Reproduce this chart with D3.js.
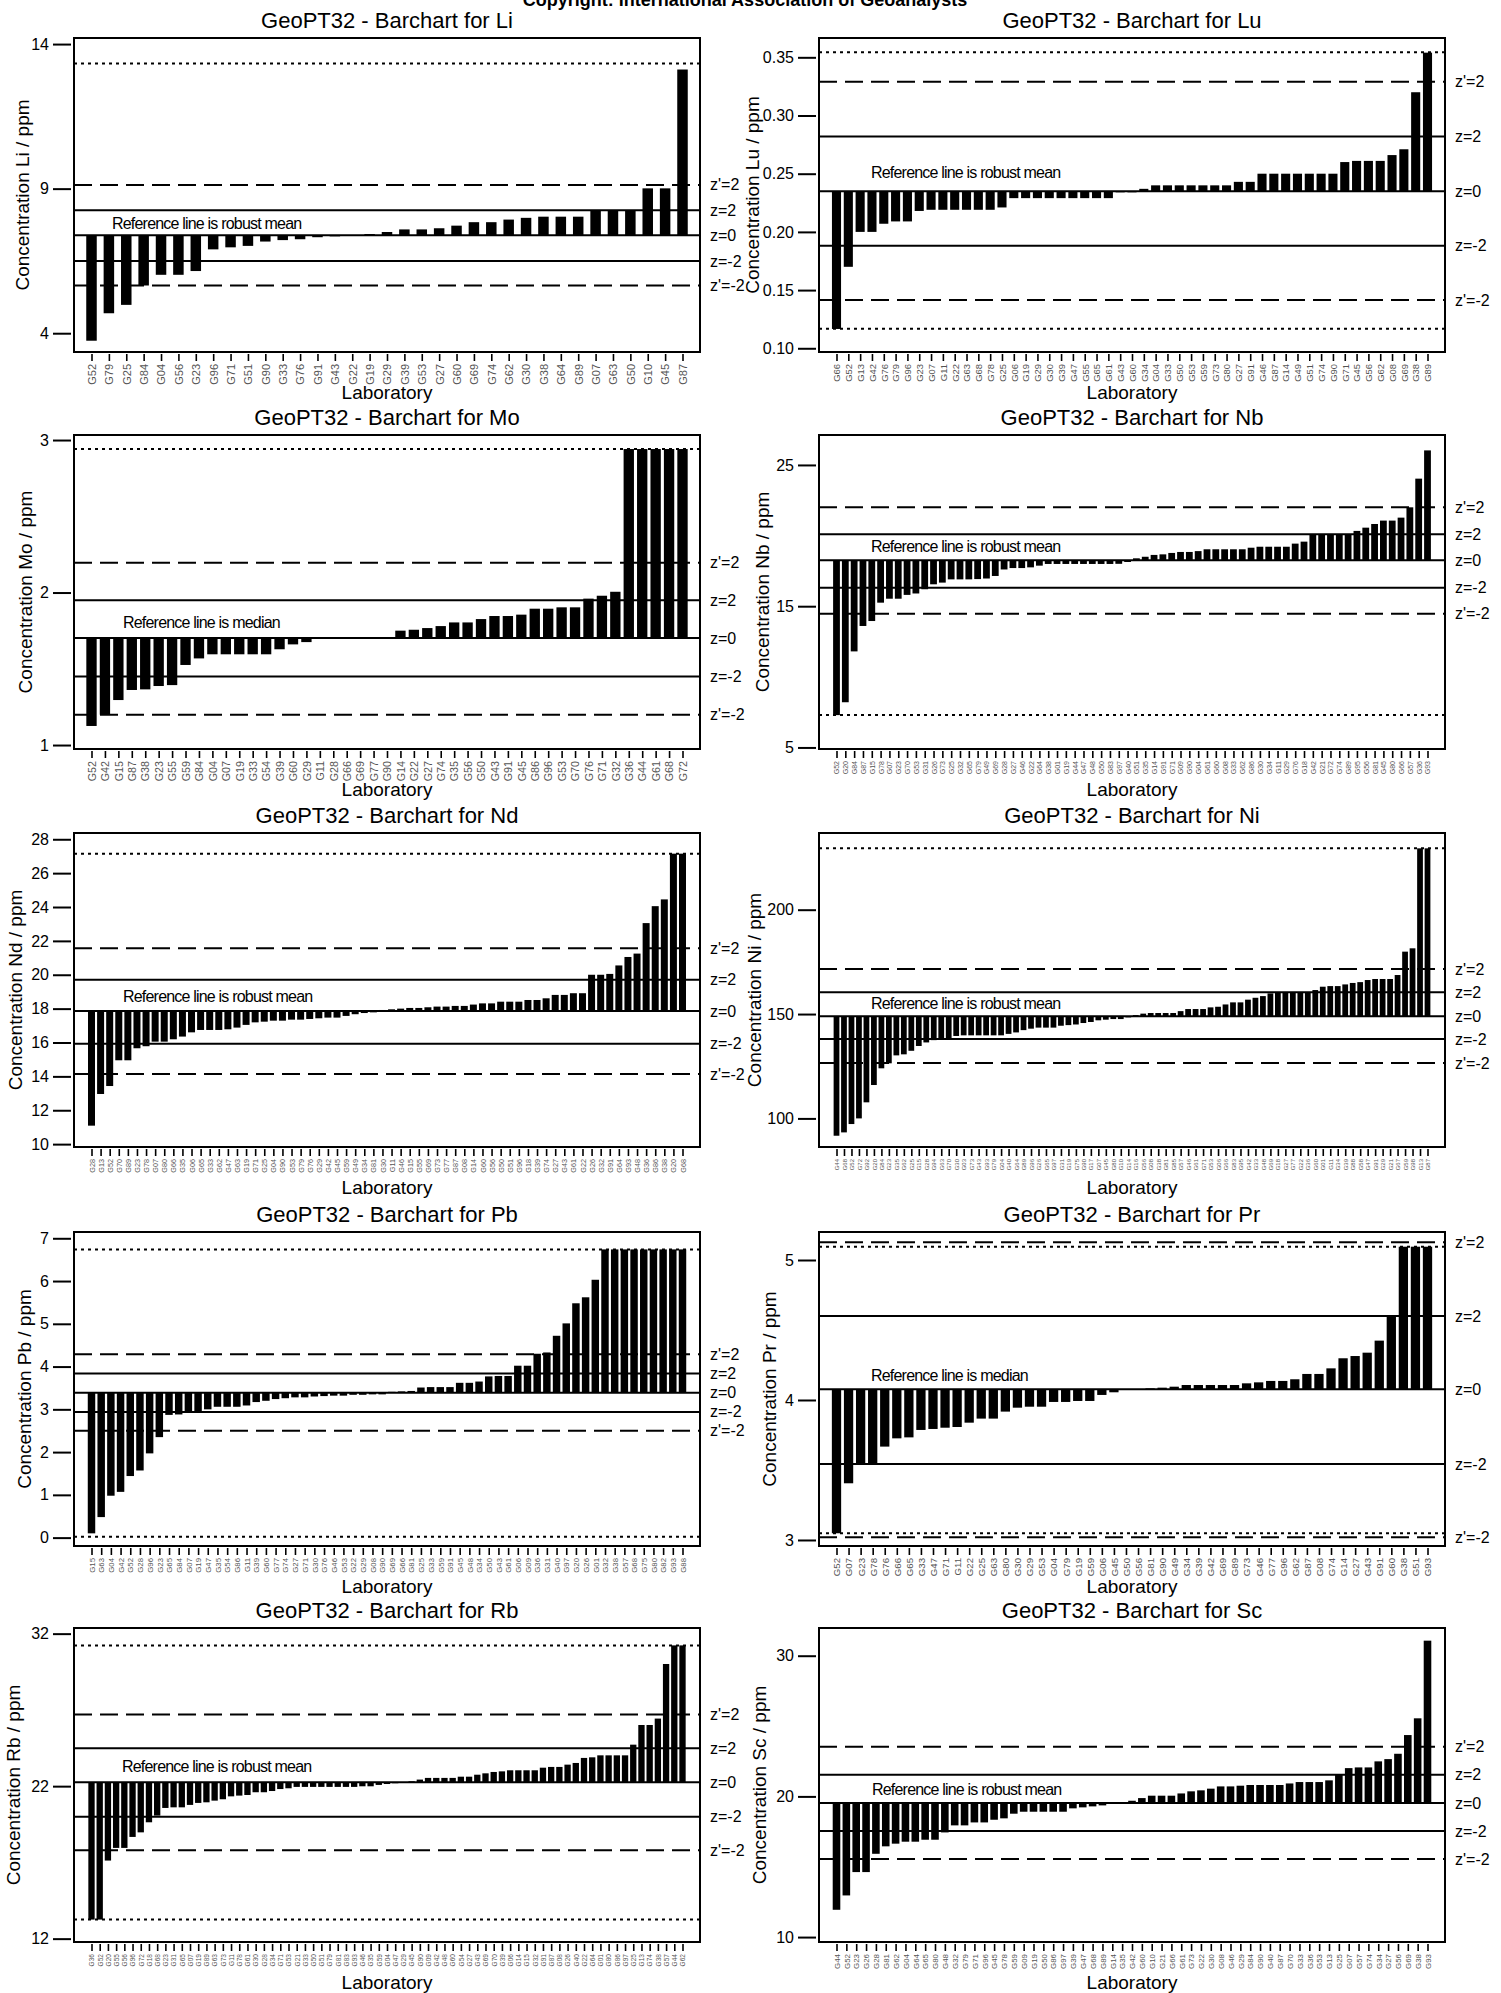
<!DOCTYPE html>
<html>
<head>
<meta charset="utf-8">
<script src="https://cdn.jsdelivr.net/npm/d3@7/dist/d3.min.js"></script>
<style>
  body { margin: 0; background: #fff; }
  svg { display: block; }
  text { font-family: "Liberation Sans", Arial, Helvetica, sans-serif; }
</style>
</head>
<body>
<div id="chart"></div>
<script>
// ---- data: one list of labs and one of values per element ----
const elements = ['Li', 'Lu', 'Mo', 'Nb', 'Nd', 'Ni', 'Pb', 'Pr', 'Rb', 'Sc'];

const liLabs = ['G52','G79','G25','G84','G04','G56','G23','G96','G71','G51','G90','G33','G76','G91','G43','G22','G19','G29','G39','G53','G27','G60','G69','G74','G62','G30','G38','G64','G89','G07','G63','G50','G10','G45','G87'];
const liValues = [3.74,4.69,4.98,5.65,6.02,6.02,6.15,6.90,6.97,7.02,7.17,7.22,7.25,7.32,7.35,7.39,7.43,7.50,7.59,7.59,7.63,7.72,7.84,7.84,7.93,7.99,8.03,8.03,8.03,8.25,8.25,8.25,9.01,9.01,13.12];

const luLabs = ['G66','G52','G13','G42','G76','G79','G96','G23','G07','G11','G22','G63','G68','G78','G25','G06','G19','G29','G30','G39','G47','G55','G65','G61','G43','G60','G34','G04','G33','G50','G53','G59','G73','G80','G27','G91','G46','G87','G14','G49','G51','G74','G90','G71','G45','G56','G62','G08','G69','G38','G89'];
const luValues = [0.1166,0.170,0.200,0.200,0.207,0.209,0.209,0.218,0.219,0.219,0.219,0.219,0.219,0.219,0.221,0.229,0.229,0.229,0.229,0.229,0.229,0.229,0.229,0.229,0.234,0.234,0.237,0.240,0.240,0.240,0.240,0.240,0.240,0.240,0.243,0.243,0.250,0.250,0.250,0.250,0.250,0.250,0.250,0.260,0.261,0.261,0.261,0.266,0.271,0.320,0.354];

const moLabs = ['G52','G42','G15','G87','G38','G23','G55','G59','G84','G04','G07','G19','G33','G54','G39','G60','G29','G11','G28','G66','G69','G77','G90','G14','G22','G27','G74','G35','G56','G50','G43','G91','G45','G86','G96','G53','G70','G76','G71','G32','G36','G44','G61','G68','G72'];
const moValues = [1.125,1.199,1.295,1.361,1.365,1.387,1.393,1.525,1.568,1.595,1.595,1.595,1.595,1.595,1.628,1.660,1.675,1.702,1.702,1.702,1.702,1.702,1.702,1.750,1.756,1.767,1.780,1.804,1.804,1.826,1.846,1.846,1.855,1.894,1.894,1.903,1.903,1.960,1.979,2.005,2.941,2.941,2.941,2.941,2.941];

const nbLabs = ['G52','G20','G84','G87','G15','G78','G07','G23','G70','G53','G31','G26','G73','G25','G32','G65','G79','G49','G69','G28','G27','G46','G22','G64','G38','G01','G19','G44','G47','G48','G50','G83','G97','G40','G51','G35','G14','G91','G71','G09','G90','G04','G61','G60','G08','G33','G62','G86','G30','G34','G11','G29','G76','G18','G42','G21','G72','G74','G89','G95','G56','G81','G45','G80','G66','G57','G36','G93'];
const nbValues = [7.29,8.2,11.8,13.6,13.95,15.25,15.53,15.53,15.8,15.9,16.2,16.55,16.67,16.9,16.9,16.9,16.92,16.96,17.14,17.6,17.7,17.7,17.75,17.87,17.99,17.99,17.99,17.99,17.99,17.99,17.99,17.99,18.0,18.13,18.39,18.5,18.63,18.67,18.77,18.84,18.84,18.9,19.03,19.03,19.03,19.03,19.03,19.14,19.21,19.21,19.21,19.21,19.43,19.57,20.09,20.09,20.09,20.09,20.09,20.33,20.56,20.82,21.06,21.06,21.27,22.0,24.03,26.03];

const ndLabs = ['G28','G13','G52','G70','G89','G23','G78','G07','G80','G66','G35','G06','G65','G33','G62','G47','G63','G19','G71','G25','G04','G90','G53','G79','G76','G29','G42','G45','G59','G49','G34','G81','G30','G11','G46','G15','G55','G69','G73','G77','G87','G08','G14','G60','G56','G50','G51','G96','G18','G39','G74','G27','G43','G61','G22','G26','G32','G91','G64','G93','G48','G36','G86','G38','G20','G68'];
const ndValues = [11.09,12.96,13.43,14.95,14.95,15.66,15.78,16.05,16.05,16.19,16.35,16.60,16.74,16.74,16.74,16.78,16.88,17.04,17.19,17.23,17.29,17.29,17.35,17.35,17.39,17.43,17.47,17.47,17.57,17.67,17.74,17.78,17.92,17.96,18.00,18.04,18.04,18.08,18.12,18.12,18.16,18.16,18.24,18.31,18.31,18.41,18.41,18.41,18.51,18.51,18.61,18.81,18.81,18.91,18.91,20.0,20.0,20.05,20.55,21.05,21.25,23.05,24.05,24.45,27.15,27.15];

const niLabs = ['G44','G68','G52','G72','G92','G20','G84','G23','G35','G62','G25','G15','G28','G94','G63','G70','G30','G03','G73','G43','G93','G79','G04','G40','G64','G89','G96','G26','G65','G97','G31','G19','G75','G90','G17','G07','G45','G80','G10','G14','G16','G56','G08','G38','G81','G85','G57','G46','G61','G71','G53','G06','G66','G83','G95','G42','G33','G48','G69','G18','G27','G77','G22','G36','G60','G01','G11','G34','G39','G88','G58','G47','G91','G29','G21','G67','G59','G98','G13','G87'];
const niValues = [91.7,93.3,97.3,100.0,107.7,116.0,124.0,126.4,130.2,130.7,132.4,134.7,136.4,137.5,138.0,138.0,139.5,139.8,139.8,139.8,139.8,139.8,139.8,140.5,141.2,142.3,143.0,143.5,143.5,143.5,144.4,144.7,145.0,145.7,146.2,147.0,147.3,147.6,147.6,148.4,149.5,150.2,150.5,150.5,150.5,150.5,151.4,152.4,152.4,152.4,153.2,153.5,154.6,155.6,155.6,156.9,157.8,158.6,159.9,160.4,160.4,160.4,160.4,160.4,161.5,163.1,163.4,163.4,164.2,164.9,165.3,166.3,166.8,166.8,166.8,168.7,179.9,181.5,229.4,229.4];

const pbLabs = ['G15','G63','G04','G42','G52','G28','G96','G23','G65','G84','G07','G19','G47','G35','G54','G86','G11','G39','G60','G77','G74','G27','G71','G30','G76','G46','G53','G22','G29','G08','G90','G69','G66','G81','G25','G33','G59','G91','G45','G48','G34','G50','G43','G61','G06','G09','G36','G31','G40','G97','G20','G26','G01','G32','G38','G57','G68','G75','G80','G82','G93','G88'];
const pbValues = [0.10,0.48,0.98,1.07,1.44,1.57,1.97,2.35,2.87,2.88,2.96,2.96,3.00,3.06,3.06,3.06,3.09,3.17,3.20,3.24,3.26,3.28,3.28,3.30,3.31,3.32,3.32,3.34,3.34,3.35,3.35,3.41,3.42,3.43,3.51,3.52,3.52,3.52,3.62,3.62,3.65,3.77,3.78,3.78,4.02,4.02,4.30,4.33,4.72,5.01,5.48,5.62,6.03,6.74,6.74,6.74,6.74,6.74,6.74,6.74,6.74,6.74];

const prLabs = ['G52','G07','G23','G78','G76','G66','G65','G33','G47','G71','G11','G22','G25','G63','G80','G30','G29','G53','G04','G79','G19','G59','G06','G45','G50','G56','G81','G90','G49','G34','G39','G42','G69','G89','G73','G46','G77','G96','G62','G87','G08','G74','G14','G27','G43','G91','G60','G38','G51','G93'];
const prValues = [3.048,3.405,3.543,3.543,3.667,3.726,3.733,3.786,3.793,3.802,3.807,3.838,3.867,3.867,3.917,3.945,3.952,3.952,3.986,3.986,3.993,3.993,4.036,4.055,4.076,4.076,4.083,4.088,4.095,4.107,4.107,4.107,4.107,4.107,4.119,4.126,4.136,4.136,4.148,4.186,4.186,4.226,4.298,4.314,4.338,4.424,4.600,5.095,5.095,5.095];

const rbLabs = ['G36','G52','G20','G55','G56','G96','G72','G18','G68','G23','G31','G65','G07','G19','G89','G63','G73','G11','G78','G61','G30','G28','G34','G71','G53','G21','G33','G50','G51','G79','G81','G83','G93','G46','G35','G59','G04','G47','G29','G45','G90','G09','G42','G48','G60','G54','G27','G43','G69','G70','G39','G06','G14','G15','G32','G91','G87','G08','G26','G40','G22','G64','G01','G80','G86','G97','G25','G13','G74','G38','G57','G44','G62'];
const rbValues = [13.25,13.25,17.12,17.95,17.95,18.67,18.97,19.63,20.07,20.57,20.61,20.61,20.77,20.90,20.94,21.05,21.14,21.33,21.38,21.42,21.60,21.60,21.68,21.81,21.86,21.95,21.95,21.95,21.95,21.95,21.95,21.95,21.95,21.99,21.99,22.08,22.14,22.19,22.27,22.32,22.43,22.54,22.54,22.54,22.54,22.62,22.62,22.75,22.84,22.93,22.97,23.04,23.04,23.04,23.04,23.21,23.26,23.26,23.41,23.52,23.85,23.89,24.02,24.02,24.02,24.02,24.72,26.01,26.01,26.43,30.01,31.23,31.23];

const scLabs = ['G44','G52','G23','G26','G28','G81','G62','G04','G64','G65','G80','G48','G32','G79','G71','G96','G45','G78','G59','G09','G19','G50','G86','G97','G39','G47','G68','G89','G14','G35','G42','G60','G10','G21','G66','G61','G73','G22','G30','G08','G46','G29','G84','G90','G40','G87','G70','G33','G36','G53','G13','G25','G07','G57','G74','G34','G27','G56','G69','G38','G93'];
const scValues = [11.94,12.96,14.62,14.62,15.92,16.45,16.64,16.78,16.78,16.92,16.92,17.44,17.94,17.94,18.15,18.15,18.34,18.44,18.77,18.91,18.91,18.91,18.91,18.91,19.15,19.22,19.29,19.36,19.60,19.60,19.69,19.88,20.05,20.05,20.05,20.21,20.36,20.43,20.55,20.71,20.71,20.76,20.81,20.81,20.81,20.81,20.92,21.02,21.02,21.02,21.14,21.54,22.01,22.06,22.06,22.49,22.65,23.03,24.36,25.55,31.07];

// reference lines (ppm), one entry per element, null = not drawn
const refKind  = ['robust mean','robust mean','median','robust mean','robust mean','robust mean',null,'median','robust mean','robust mean'];
const assigned = [7.39, 0.235, 1.702, 18.25, 17.86, 149.0, 3.39, 4.076, 22.25, 19.53];
const zUpper   = [8.25, 0.282, 1.949, 20.09, 19.71, 160.4, 3.84, 4.600, 24.48, 21.54];
const zLower   = [6.50, 0.188, 1.450, 16.31, 15.93, 138.0, 2.94, 3.543, 20.00, 17.54];
const zpUpper  = [9.13, 0.329, 2.195, 22.00, 21.56, 171.6, 4.29, 5.126, 26.69, 23.53];
const zpLower  = [5.65, 0.1415, 1.199, 14.47, 14.14, 126.5, 2.50, 3.019, 17.79, 15.55];
const dotUpper = [13.33, 0.3543, 2.941, null, 27.15, 229.4, 6.74, 5.095, 31.23, null];
const dotLower = [null, 0.1167, null, 7.29, null, null, 0.02, 3.048, 13.25, null];

// axis ranges and ticks
const yDomains = [[3.35,14.21],[0.0968,0.3666],[0.974,3.033],[4.89,27.12],[9.83,28.37],[86.3,236.75],[-0.196,7.147],[2.957,5.2],[11.78,32.37],[9.65,31.97]];
const yTicks = [[4,9,14],[0.10,0.15,0.20,0.25,0.30,0.35],[1,2,3],[5,15,25],[10,12,14,16,18,20,22,24,26,28],[100,150,200],[0,1,2,3,4,5,6,7],[3,4,5],[12,22,32],[10,20,30]];

const labsByEl = [liLabs, luLabs, moLabs, nbLabs, ndLabs, niLabs, pbLabs, prLabs, rbLabs, scLabs];
const valuesByEl = [liValues, luValues, moValues, nbValues, ndValues, niValues, pbValues, prValues, rbValues, scValues];

// ---- layout ----
const W = 1501, H = 1993;
const colLeft = [74, 819];
const rowTop = [38, 435, 833, 1232, 1628];
const boxW = 626, boxH = 314;
const refTextDx = [38, 52, 49, 52, 49, 52, 49, 52, 48, 53];
const refTextDy = [6.5, 13.5, 9.5, 8.5, 9, 7, 9, 8, 10, 8.5];
const yLabelDx = [-52, -67, -49, -57, -59, -65, -50, -50, -61, -60];

const svg = d3.select('#chart').append('svg')
  .attr('width', W)
  .attr('height', H);

svg.append('rect').attr('width', W).attr('height', H).attr('fill', '#fff');

svg.append('text')
  .attr('x', 745)
  .attr('y', 6)
  .attr('text-anchor', 'middle')
  .attr('font-size', 18)
  .attr('font-weight', 'bold')
  .text('Copyright: International Association of Geoanalysts');

elements.forEach((el, k) => {
  const labs = labsByEl[k];
  const values = valuesByEl[k];
  const left = colLeft[k % 2];
  const top = rowTop[Math.floor(k / 2)];
  const right = left + boxW;
  const bottom = top + boxH;
  const g = svg.append('g');

  const x = d3.scalePoint()
    .domain(d3.range(labs.length))
    .range([left + 17.5, right - 17.5]);
  const y = d3.scaleLinear()
    .domain(yDomains[k])
    .range([bottom, top]);

  const step = x.step();
  const barW = Math.min(10.5, step * 0.77);
  const ref = assigned[k];

  // bars hang from the reference line
  g.append('g')
    .selectAll('rect')
    .data(values)
    .join('rect')
    .attr('x', (d, i) => x(i) - barW / 2)
    .attr('y', d => Math.min(y(d), y(ref)))
    .attr('width', barW)
    .attr('height', d => Math.abs(y(d) - y(ref)))
    .attr('fill', '#000');

  // reference / z-score lines
  const lines = [
    { v: dotUpper[k], dash: '3,4' },
    { v: dotLower[k], dash: '3,4' },
    { v: zpUpper[k], dash: '18,8', label: "z'=2" },
    { v: zUpper[k], dash: null, label: 'z=2' },
    { v: ref, dash: null, label: 'z=0' },
    { v: zLower[k], dash: null, label: 'z=-2' },
    { v: zpLower[k], dash: '18,8', label: "z'=-2" }
  ].filter(l => l.v !== null);

  lines.forEach(l => {
    g.append('line')
      .attr('x1', left).attr('x2', right)
      .attr('y1', y(l.v)).attr('y2', y(l.v))
      .attr('stroke', '#000')
      .attr('stroke-width', 2)
      .attr('stroke-dasharray', l.dash);
    if (l.label) {
      g.append('text')
        .attr('x', right + 10)
        .attr('y', y(l.v))
        .attr('dy', '0.35em')
        .attr('font-size', 16)
        .text(l.label);
    }
  });

  if (refKind[k]) {
    g.append('text')
      .attr('x', left + refTextDx[k])
      .attr('y', y(ref) - refTextDy[k])
      .attr('font-size', 16)
      .attr('letter-spacing', '-0.8px')
      .text('Reference line is ' + refKind[k]);
  }

  // plot box
  g.append('rect')
    .attr('x', left).attr('y', top)
    .attr('width', boxW).attr('height', boxH)
    .attr('fill', 'none')
    .attr('stroke', '#000')
    .attr('stroke-width', 2);

  // y axis
  const yFmt = el === 'Lu' ? d3.format('.2f') : d3.format('d');
  const yAxis = g.append('g')
    .attr('transform', `translate(${left - 3},0)`)
    .call(d3.axisLeft(y).tickValues(yTicks[k]).tickFormat(yFmt).tickSize(18).tickPadding(4));
  yAxis.select('.domain').remove();
  yAxis.selectAll('.tick line').attr('stroke-width', 2);
  yAxis.selectAll('.tick text')
    .attr('font-size', 16)
    .attr('font-family', '"Liberation Sans", Arial, sans-serif')
    .attr('fill', '#000');

  // x axis with rotated lab codes
  const fs = Math.max(5.5, Math.min(11, step * 0.8));
  const xAxis = g.append('g')
    .attr('transform', `translate(0,${bottom + 2})`)
    .call(d3.axisBottom(x).tickSize(7).tickFormat(i => labs[i]));
  xAxis.select('.domain').remove();
  xAxis.selectAll('.tick line').attr('stroke-width', 1.6);
  xAxis.selectAll('.tick text')
    .attr('transform', 'rotate(-90)')
    .attr('text-anchor', 'end')
    .attr('x', -10)
    .attr('y', 0)
    .attr('dy', '0.35em')
    .attr('font-size', fs)
    .attr('font-family', '"Liberation Sans", Arial, sans-serif')
    .attr('fill', '#555');

  // titles
  g.append('text')
    .attr('x', (left + right) / 2)
    .attr('y', top - 10)
    .attr('text-anchor', 'middle')
    .attr('font-size', 22)
    .text(`GeoPT32 - Barchart for ${el}`);

  g.append('text')
    .attr('x', (left + right) / 2)
    .attr('y', bottom + 47)
    .attr('text-anchor', 'middle')
    .attr('font-size', 19)
    .text('Laboratory');

  g.append('text')
    .attr('transform', `translate(${left + yLabelDx[k]},${(top + bottom) / 2}) rotate(-90)`)
    .attr('text-anchor', 'middle')
    .attr('dy', '0.35em')
    .attr('font-size', 19)
    .text(`Concentration ${el} / ppm`);
});
</script>
</body>
</html>
